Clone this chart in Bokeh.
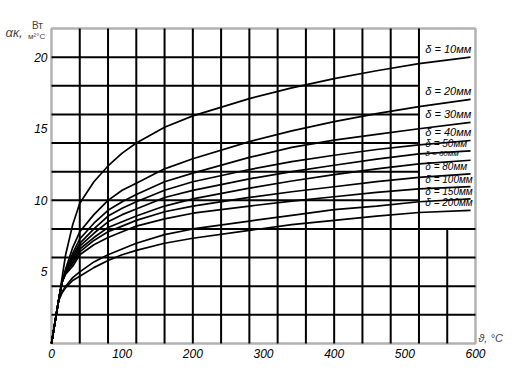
import numpy as np
from bokeh.plotting import figure
from bokeh.models import FixedTicker, Label, ColumnDataSource, BoxAnnotation
from bokeh.core.properties import value
from bokeh.embed import file_html
from bokeh.resources import INLINE

# ---- data ----
temps = [0, 5, 10, 15, 20, 30, 40, 60, 80, 100, 120, 160, 200, 280, 340, 400, 460, 520, 593]
b10  = [0, 1.5, 3.0, 4.6, 6.2, 8.3, 9.8, 11.3, 12.4, 13.3, 14.0, 15.1, 15.9, 17.1, 17.85, 18.5, 19.05, 19.55, 20.0]
b20  = [0, 1.5, 3.0, 4.3, 5.2, 6.7, 7.8, 9.0, 10.0, 10.7, 11.2, 12.2, 12.9, 14.1, 14.85, 15.5, 16.05, 16.55, 17.05]
b30  = [0, 1.5, 3.0, 4.3, 5.1, 6.3, 7.3, 8.4, 9.3, 9.9, 10.4, 11.3, 11.9, 13.0, 13.7, 14.2, 14.6, 15.0, 15.45]
b40  = [0, 1.5, 3.0, 4.3, 5.05, 6.1, 7.0, 8.0, 8.9, 9.45, 9.9, 10.7, 11.3, 12.15, 12.7, 13.15, 13.55, 13.87, 14.18]
b50  = [0, 1.5, 3.0, 4.3, 5.0, 5.9, 6.8, 7.7, 8.5, 9.0, 9.4, 10.2, 10.7, 11.5, 12.0, 12.45, 12.88, 13.25, 13.45]
b60  = [0, 1.5, 3.0, 4.3, 4.95, 5.7, 6.6, 7.4, 8.1, 8.5, 8.9, 9.6, 10.1, 10.85, 11.35, 11.8, 12.2, 12.55, 12.8]
b80  = [0, 1.5, 3.0, 4.3, 4.9, 5.6, 6.4, 7.2, 7.8, 8.2, 8.6, 9.2, 9.6, 10.2, 10.6, 10.95, 11.3, 11.6, 11.85]
b100 = [0, 1.5, 3.0, 4.3, 4.85, 5.4, 6.2, 6.9, 7.4, 7.8, 8.2, 8.7, 9.1, 9.6, 9.95, 10.25, 10.55, 10.8, 10.95]
b150 = [0, 1.5, 3.0, 3.6, 4.0, 4.6, 5.0, 5.7, 6.2, 6.6, 7.0, 7.6, 8.0, 8.55, 8.95, 9.35, 9.6, 9.9, 10.1]
b200 = [0, 1.5, 3.0, 3.55, 3.9, 4.4, 4.7, 5.3, 5.8, 6.2, 6.5, 7.0, 7.35, 7.9, 8.3, 8.6, 8.9, 9.15, 9.3]

series = [b10, b20, b30, b40, b50, b60, b80, b100, b150, b200]
labels = ["δ = 10мм", "δ = 20мм", "δ = 30мм", "δ = 40мм", "δ = 50мм",
          "δ = 60мм", "δ = 80мм", "δ = 100мм", "δ = 150мм", "δ = 200мм"]
x_ticks = [0, 100, 200, 300, 400, 500, 600]
y_ticks = [5, 10, 15, 20]

FONT = "Liberation Sans"
X_MAX, Y_MAX = 600, 22

# the frame covers the whole canvas; the chart box (0..600, 0..22) sits inside it
p = figure(width=508, height=366, x_range=(-72.17, 646.7), y_range=(-1.606, 23.956),
           output_backend="svg", toolbar_location=None, min_border=0)
p.grid.visible = False
p.outline_line_color = None
p.background_fill_color = "white"
p.border_fill_color = "white"

# grid (box at upper right, x >= 520 and y > 8, is left free for the labels)
gx = np.arange(40, X_MAX, 40)
gx_top = np.where(gx <= 520, Y_MAX, 8)
p.segment(x0=gx, y0=np.zeros_like(gx), x1=gx, y1=gx_top, line_color="black", line_width=2)
gy = np.arange(2, Y_MAX, 2)
gy_right = np.where(gy <= 8, X_MAX, 520)
p.segment(x0=np.zeros_like(gy), y0=gy, x1=gy_right, y1=gy, line_color="black", line_width=2)

for s in series:
    p.line(temps, s, line_color="black", line_width=1.7)

p.add_layout(BoxAnnotation(left=0, right=X_MAX, bottom=0, top=Y_MAX, fill_alpha=0,
                           line_color="black", line_width=2.5))

# curve labels
end_vals = [s[-1] for s in series]
sizes = ["11px", "11px", "11px", "11px", "10px", "8px", "10px", "10px", "10px", "10px"]
src = ColumnDataSource(dict(x=[529] * len(labels), y=end_vals, t=labels, fs=sizes))
p.text(x="x", y="y", text="t", source=src, text_font=value(FONT), text_font_style="italic",
       text_font_size="fs", text_baseline="bottom", text_align="left", y_offset=-2,
       text_color="black")

# axes, fixed at the chart's zero lines
p.xaxis.fixed_location = 0
p.yaxis.fixed_location = 0
for ax, ticks in ((p.xaxis, x_ticks), (p.yaxis, y_ticks)):
    ax.ticker = FixedTicker(ticks=ticks)
    ax.axis_line_color = None
    ax.major_tick_line_color = None
    ax.minor_tick_line_color = None
    ax.major_tick_in = 0
    ax.major_tick_out = 0
    ax.major_label_text_font = FONT
    ax.major_label_text_font_style = "italic"
    ax.major_label_text_font_size = "12px"
    ax.major_label_text_color = "black"
p.xaxis.major_label_standoff = 5
p.yaxis.major_label_standoff = 4

# axis titles
p.add_layout(Label(x=-53, y=21.75, text="αк,", text_font=FONT, text_font_style="italic",
                   text_font_size="13px", text_align="center", text_baseline="middle"))
p.add_layout(Label(x=-20, y=22.2, text="Вт", text_font=FONT,
                   text_font_size="10px", text_align="center", text_baseline="middle"))
p.add_layout(Label(x=-21, y=21.45, text="м²°C", text_font=FONT,
                   text_font_size="8px", text_align="center", text_baseline="middle"))
p.add_layout(Label(x=604, y=0.35, text="ϑ, °C", text_font=FONT, text_font_style="italic",
                   text_font_size="11px", text_align="left", text_baseline="middle"))

open("out.html", "w").write(file_html(p, INLINE))
